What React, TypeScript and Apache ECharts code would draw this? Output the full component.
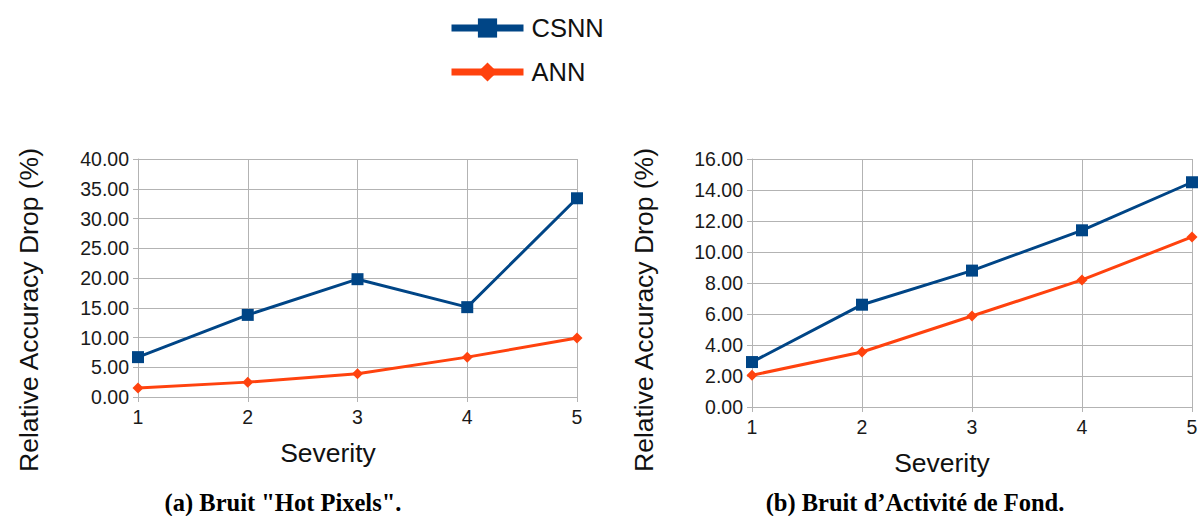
import React, { useEffect, useRef } from "react";
import * as echarts from "echarts";

const severities = ["1", "2", "3", "4", "5"];
const hotCSNN = [6.7, 13.8, 19.8, 15.1, 33.4];
const hotANN = [1.5, 2.5, 3.9, 6.7, 9.9];
const bgCSNN = [2.9, 6.6, 8.8, 11.4, 14.5];
const bgANN = [2.05, 3.55, 5.87, 8.2, 10.97];

const BLUE = "#004586";
const ORANGE = "#ff420e";
const SANS = "'Liberation Sans', Arial, sans-serif";
const SERIF = "'Liberation Serif', 'DejaVu Serif', serif";

export default function App() {
  const ref = useRef<HTMLDivElement>(null);
  useEffect(() => {
    document.body.style.margin = "0";
    const chart = echarts.init(ref.current!, null, { renderer: "svg" });
    const yAxisBase = (max: number, interval: number) => ({
      type: "value",
      min: 0,
      max,
      interval,
      axisLine: { show: true, lineStyle: { color: "#b3b3b3", width: 1 } },
      axisTick: { show: true, length: 5, lineStyle: { color: "#b3b3b3" } },
      splitLine: { show: true, lineStyle: { color: "#b3b3b3", width: 1 } },
      axisLabel: {
        fontFamily: SANS,
        fontSize: 19.5,
        color: "#1a1a1a",
        margin: 9,
        formatter: (v: number) => v.toFixed(2),
      },
    });
    const xAxisBase = (gridIndex: number) => ({
      type: "category",
      gridIndex,
      data: severities,
      boundaryGap: false,
      axisLine: { show: true, lineStyle: { color: "#b3b3b3", width: 1 } },
      axisTick: { show: true, length: 5, alignWithLabel: true, lineStyle: { color: "#b3b3b3" } },
      splitLine: { show: true, lineStyle: { color: "#b3b3b3", width: 1 } },
      axisLabel: { fontFamily: SANS, fontSize: 19.5, color: "#1a1a1a", margin: 10 },
    });
    const csnn = (xi: number, data: number[]) => ({
      name: "CSNN",
      type: "line",
      xAxisIndex: xi,
      yAxisIndex: xi,
      data,
      symbol: "rect",
      symbolSize: 12,
      lineStyle: { color: BLUE, width: 3 },
      itemStyle: { color: BLUE },
    });
    const ann = (xi: number, data: number[]) => ({
      name: "ANN",
      type: "line",
      xAxisIndex: xi,
      yAxisIndex: xi,
      data,
      symbol: "diamond",
      symbolSize: 11,
      lineStyle: { color: ORANGE, width: 3 },
      itemStyle: { color: ORANGE },
    });
    const yName = (x: number) => ({
      type: "text",
      x,
      y: 310,
      rotation: Math.PI / 2,
      style: {
        text: "Relative Accuracy Drop (%)",
        fontFamily: SANS,
        fontSize: 26.5,
        fill: "#111",
        align: "center",
        verticalAlign: "middle",
      },
    });
    const xName = (x: number, y: number) => ({
      type: "text",
      x,
      y,
      style: {
        text: "Severity",
        fontFamily: SANS,
        fontSize: 26.5,
        fill: "#111",
        align: "center",
        verticalAlign: "middle",
      },
    });
    const caption = (x: number, text: string) => ({
      type: "text",
      x,
      y: 502,
      style: {
        text,
        fontFamily: SERIF,
        fontWeight: "bold",
        fontSize: 24.5,
        fill: "#000",
        align: "center",
        verticalAlign: "middle",
      },
    });
    chart.setOption({
      animation: false,
      backgroundColor: "#fff",
      legend: {
        orient: "vertical",
        left: 448,
        top: 15,
        padding: 0,
        itemWidth: 72,
        itemHeight: 24,
        itemGap: 18,
        data: ["CSNN", "ANN"],
        lineStyle: { width: 7 },
        textStyle: { fontFamily: SANS, fontSize: 25.5, color: "#111", padding: [0, 0, 0, 3] },
      },
      grid: [
        { left: 138, top: 159, width: 439, height: 238 },
        { left: 752, top: 159, width: 440, height: 248 },
      ],
      xAxis: [xAxisBase(0), xAxisBase(1)],
      yAxis: [
        { ...yAxisBase(40, 5), gridIndex: 0 },
        { ...yAxisBase(16, 2), gridIndex: 1 },
      ],
      series: [csnn(0, hotCSNN), ann(0, hotANN), csnn(1, bgCSNN), ann(1, bgANN)],
      graphic: [
        yName(29),
        yName(644),
        xName(328, 453),
        xName(942, 463),
        caption(283, '(a) Bruit "Hot Pixels".'),
        caption(915, "(b) Bruit d\u2019Activit\u00e9 de Fond."),
      ],
    });
    return () => chart.dispose();
  }, []);
  return <div ref={ref} style={{ width: 1201, height: 516 }} />;
}
